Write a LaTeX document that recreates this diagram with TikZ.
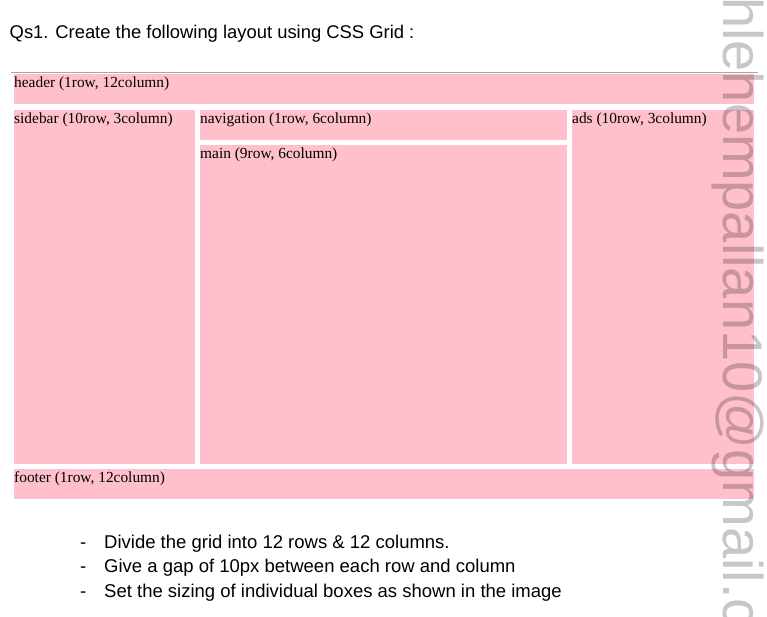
\documentclass[tikz,border=0pt]{standalone}
\usepackage{fontspec}
\setmainfont{Liberation Serif}
\newfontfamily\arialfont{Liberation Sans}
\usepackage{tikz}
\usetikzlibrary{calc}
\definecolor{cellpink}{HTML}{FFC0CB}
\tikzstyle{cell} = [rectangle, anchor=north west, 
inner sep=0pt, outer sep=0pt, 
fill=cellpink, draw=none]
\tikzstyle{tag} = [anchor=base west, inner sep=0pt, 
font=\fontsize{15.4}{18}\selectfont]
\tikzstyle{note} = [anchor=base west, inner sep=0pt, 
font=\arialfont\fontsize{18.5}{22}\selectfont]

\begin{document}
\begin{tikzpicture} [x=1pt, y=-1pt]
    \useasboundingbox (0,0) rectangle (767,616);

    % the question
    \node (Title) [anchor=base west, inner sep=0pt, font=\arialfont\fontsize{18.4}{22}\selectfont] at (9.5,38) {Qs1. Create the following layout using CSS Grid :};

    \coordinate (RuleL) at (11,72.5);
    \coordinate (RuleR) at (758,72.5);
    \draw [black!35, line width=1pt] (RuleL) -- (RuleR);

    % the grid cells
    \node (Header) [cell, minimum width=740pt, minimum height=30pt] at (14,74) {};
    \node (Sidebar) [cell, minimum width=181pt, minimum height=354pt] at (14,110) {};
    \node (Nav) [cell, minimum width=367pt, minimum height=30pt] at (200,110) {};
    \node (Main) [cell, minimum width=367pt, minimum height=319pt] at (200,145) {};
    \node (Ads) [cell, minimum width=182pt, minimum height=354pt] at (572,110) {};
    \node (Footer) [cell, minimum width=740pt, minimum height=30pt] at (14,469) {};

    % the cell labels
    \node (HeaderTag) [tag] at ($(Header.north west) + (0,13.5)$) {header (1row, 12column)};
    \node (SidebarTag) [tag] at ($(Sidebar.north west) + (0,13.5)$) {sidebar (10row, 3column)};
    \node (NavTag) [tag] at ($(Nav.north west) + (0,13.5)$) {navigation (1row, 6column)};
    \node (MainTag) [tag] at ($(Main.north west) + (0,13.5)$) {main (9row, 6column)};
    \node (AdsTag) [tag] at ($(Ads.north west) + (0,13.5)$) {ads (10row, 3column)};
    \node (FooterTag) [tag] at ($(Footer.north west) + (0,13.5)$) {footer (1row, 12column)};

    % the instructions
    \node (Step1) [note] at (80,548) {\makebox[24pt][l]{-}Divide the grid into 12 rows \& 12 columns.};
    \node (Step2) [note] at ($(Step1.base west) + (0,24.5)$) {\makebox[24pt][l]{-}Give a gap of 10px between each row and column};
    \node (Step3) [note] at ($(Step2.base west) + (0,24.5)$) {\makebox[24pt][l]{-}Set the sizing of individual boxes as shown in the image};

    % watermark
    \node (Mark) [rotate=-90, anchor=base west, inner sep=0pt, text=black, text opacity=0.22, font=\arialfont\fontsize{56}{60}\selectfont] at (723,-3) {hlehempallan10@gmail.c};

\end{tikzpicture}
\end{document}
